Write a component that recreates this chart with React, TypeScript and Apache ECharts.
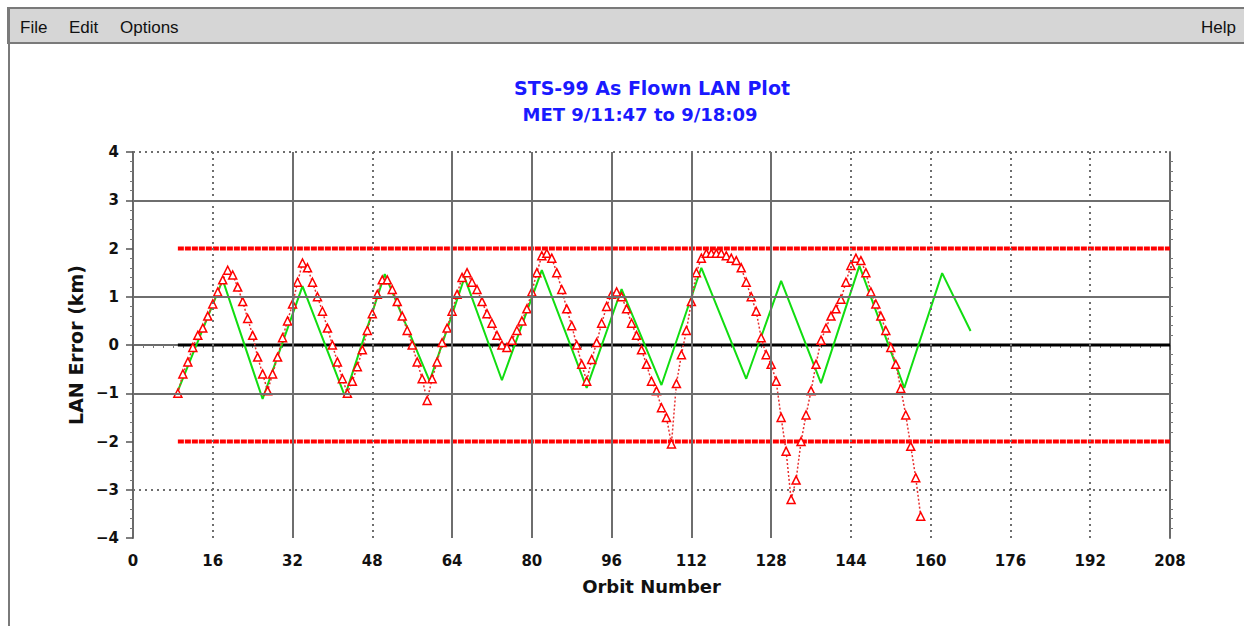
import React, { useEffect, useRef } from "react";
import * as echarts from "echarts";

const titleLines = ["STS-99 As Flown LAN Plot", "MET 9/11:47 to 9/18:09"];
const menuItems = ["File", "Edit", "Options"];
const helpItem = "Help";
const xTicks = [0, 16, 32, 48, 64, 80, 96, 112, 128, 144, 160, 176, 192, 208];
const xAxisName = "Orbit Number";
const yAxisName = "LAN Error (km)";

// As flown (red triangles)
const asFlownOrbit = [
  9, 10, 11, 12, 13, 14, 15, 16, 17, 18, 19, 20, 21, 22, 23, 24, 25, 26, 27, 28,
  29, 30, 31, 32, 33, 34, 35, 36, 37, 38, 39, 40, 41, 42, 43, 44, 45, 46, 47, 48,
  49, 50, 51, 52, 53, 54, 55, 56, 57, 58, 59, 60, 61, 62, 63, 64, 65, 66, 67, 68,
  69, 70, 71, 72, 73, 74, 75, 76, 77, 78, 79, 80, 81, 82, 83, 84, 85, 86, 87, 88,
  89, 90, 91, 92, 93, 94, 95, 96, 97, 98, 99, 100, 101, 102, 103, 104, 105, 106, 107, 108,
  109, 110, 111, 112, 113, 114, 115, 116, 117, 118, 119, 120, 121, 122, 123, 124, 125, 126, 127, 128,
  129, 130, 131, 132, 133, 134, 135, 136, 137, 138, 139, 140, 141, 142, 143, 144, 145, 146, 147, 148,
  149, 150, 151, 152, 153, 154, 155, 156, 157, 158,
];
const asFlownLan = [
  -1.0, -0.6, -0.35, -0.05, 0.2, 0.35, 0.6, 0.85, 1.1, 1.35, 1.55, 1.45, 1.2, 0.9, 0.55, 0.2, -0.25, -0.6, -0.95, -0.6,
  -0.25, 0.15, 0.5, 0.85, 1.3, 1.7, 1.6, 1.3, 1.0, 0.7, 0.35, 0.0, -0.35, -0.7, -1.0, -0.75, -0.45, -0.1, 0.3, 0.65,
  1.05, 1.35, 1.35, 1.15, 0.9, 0.6, 0.3, 0.0, -0.35, -0.7, -1.15, -0.7, -0.35, 0.05, 0.35, 0.7, 1.05, 1.4, 1.5, 1.3,
  1.15, 0.9, 0.65, 0.45, 0.2, 0.0, -0.05, 0.1, 0.3, 0.5, 0.75, 1.1, 1.5, 1.85, 1.9, 1.8, 1.5, 1.15, 0.75, 0.4,
  0.0, -0.4, -0.75, -0.3, 0.05, 0.45, 0.8, 1.05, 1.1, 1.0, 0.75, 0.45, 0.2, -0.1, -0.4, -0.75, -0.95, -1.3, -1.5, -2.05,
  -0.8, -0.2, 0.3, 0.9, 1.5, 1.8, 1.9, 1.9, 1.9, 1.9, 1.85, 1.8, 1.75, 1.6, 1.3, 1.0, 0.7, 0.15, -0.2, -0.4,
  -0.75, -1.5, -2.2, -3.2, -2.8, -2.0, -1.45, -0.95, -0.4, 0.1, 0.35, 0.6, 0.75, 0.95, 1.3, 1.65, 1.8, 1.75, 1.5, 1.1,
  0.85, 0.6, 0.3, -0.05, -0.4, -0.9, -1.45, -2.1, -2.75, -3.55,
];

// Predicted (green line)
const predictedOrbit = [9, 18, 26, 34, 42.5, 50.5, 59.5, 66.5, 74, 82, 91, 98, 106, 114, 123, 130, 138, 145.7, 154.7, 162.3, 168];
const predictedLan = [-0.95, 1.35, -1.12, 1.22, -1.06, 1.47, -0.75, 1.4, -0.73, 1.55, -0.89, 1.16, -0.83, 1.6, -0.7, 1.33, -0.79, 1.64, -0.89, 1.49, 0.29];

// Reference lines
const limitStart = 9;
const limitEnd = 208;
const upperLimit = 2;
const lowerLimit = -2;
const nominal = 0;

// Grid lines
const solidVerticals = [32, 64, 80, 96, 112, 128];
const dottedVerticals = [16, 48, 144, 160, 176, 192];
const solidHorizontals = [3, 1, -1];
const dottedHorizontals = [4, -3];

const FONT = "'Liberation Sans', Arial, sans-serif";
const WIDE = "'DejaVu Sans', Verdana, sans-serif";

export default function App() {
  const ref = useRef<HTMLDivElement>(null);

  useEffect(() => {
    if (!ref.current) return;
    const chart = echarts.init(ref.current, null, { renderer: "svg" });

    const pairs = (xs: number[], ys: number[]) => xs.map((x, i) => [x, ys[i]]);
    const gridMarks: any[] = [];
    solidVerticals.forEach((v) =>
      gridMarks.push({ xAxis: v, lineStyle: { color: "#6e6e6e", width: 2, type: "solid" } })
    );
    dottedVerticals.forEach((v) =>
      gridMarks.push({ xAxis: v, lineStyle: { color: "#6e6e6e", width: 2, type: [2, 4] } })
    );
    solidHorizontals.forEach((v) =>
      gridMarks.push({ yAxis: v, lineStyle: { color: "#6e6e6e", width: 2, type: "solid" } })
    );
    dottedHorizontals.forEach((v) =>
      gridMarks.push({ yAxis: v, lineStyle: { color: "#6e6e6e", width: 2, type: [2, 4] } })
    );

    const axisLineStyle = { color: "#6a6a6a", width: 2 };

    chart.setOption({
      animation: false,
      backgroundColor: "#ffffff",
      textStyle: { fontFamily: FONT },
      grid: { left: 133, right: 74, top: 152, bottom: 88 },
      graphic: [
        {
          type: "rect",
          shape: { x: 8, y: 8, width: 1240, height: 35 },
          style: { fill: "#d6d6d6", stroke: "#7a7a7a", lineWidth: 2 },
          silent: true,
        },
        {
          type: "line",
          shape: { x1: 9, y1: 8, x2: 9, y2: 626 },
          style: { stroke: "#7a7a7a", lineWidth: 2 },
          silent: true,
        },
        ...menuItems.map((t, i) => ({
          type: "text",
          x: [20, 69, 120][i],
          y: 27,
          style: {
            text: t,
            font: `17px ${FONT}`,
            fill: "#111",
            textVerticalAlign: "middle",
          },
          silent: true,
        })),
        {
          type: "text",
          x: 1236,
          y: 27,
          style: {
            text: helpItem,
            font: `17px ${FONT}`,
            fill: "#111",
            textAlign: "right",
            textVerticalAlign: "middle",
          },
          silent: true,
        },
        {
          type: "text",
          x: 652,
          y: 88,
          style: {
            text: titleLines[0],
            font: `bold 19px ${WIDE}`,
            fill: "#1a1aff",
            textAlign: "center",
            textVerticalAlign: "middle",
          },
          silent: true,
        },
        {
          type: "text",
          x: 640,
          y: 114,
          style: {
            text: titleLines[1],
            font: `bold 18px ${WIDE}`,
            fill: "#1a1aff",
            textAlign: "center",
            textVerticalAlign: "middle",
          },
          silent: true,
        },
      ],
      xAxis: [
        {
          type: "value",
          min: 0,
          max: 208,
          interval: 16,
          position: "bottom",
          name: xAxisName,
          nameLocation: "middle",
          nameGap: 39,
          nameTextStyle: { fontFamily: WIDE, fontWeight: "bold", fontSize: 18, color: "#111" },
          axisLine: { show: true, lineStyle: axisLineStyle },
          axisTick: { show: true, length: 5, inside: false, lineStyle: { color: "#555", width: 1.5 } },
          minorTick: { show: true, splitNumber: 8, length: 3, lineStyle: { color: "#777" } },
          axisLabel: {
            margin: 15,
            fontFamily: WIDE,
            fontWeight: "bold",
            fontSize: 15,
            color: "#111",
            formatter: (v: number) => (xTicks.includes(v) ? String(v) : ""),
          },
          splitLine: { show: false },
        },
      ],
      yAxis: [
        {
          type: "value",
          min: -4,
          max: 4,
          interval: 1,
          position: "left",
          name: yAxisName,
          nameLocation: "middle",
          nameGap: 41,
          nameRotate: 90,
          nameTextStyle: { fontFamily: WIDE, fontWeight: "bold", fontSize: 19, color: "#111" },
          axisLine: { show: true, lineStyle: axisLineStyle },
          axisTick: { show: true, length: 7, inside: false, lineStyle: { color: "#555", width: 1.5 } },
          minorTick: { show: true, splitNumber: 5, length: 3, lineStyle: { color: "#777" } },
          axisLabel: {
            margin: 14,
            fontFamily: WIDE,
            fontWeight: "bold",
            fontSize: 15,
            color: "#111",
            formatter: (v: number) => (v < 0 ? "\u2212" + Math.abs(v) : String(v)),
          },
          splitLine: { show: false },
        },
        {
          type: "value",
          min: -4,
          max: 4,
          interval: 1,
          position: "right",
          axisLine: { show: true, onZero: false, lineStyle: axisLineStyle },
          axisTick: { show: false },
          minorTick: { show: true, splitNumber: 5, length: 3, lineStyle: { color: "#777" } },
          axisLabel: { show: false },
          splitLine: { show: false },
        },
      ],
      series: [
        {
          name: "grid",
          type: "line",
          data: [],
          z: 1,
          silent: true,
          markLine: {
            silent: true,
            symbol: "none",
            label: { show: false },
            data: gridMarks,
          },
        },
        {
          name: "upper",
          type: "line",
          data: [[limitStart, upperLimit], [limitEnd, upperLimit]],
          showSymbol: false,
          lineStyle: { color: "#ff0000", width: 4, type: [6, 1] },
          z: 2,
          silent: true,
        },
        {
          name: "lower",
          type: "line",
          data: [[limitStart, lowerLimit], [limitEnd, lowerLimit]],
          showSymbol: false,
          lineStyle: { color: "#ff0000", width: 4, type: [6, 1] },
          z: 2,
          silent: true,
        },
        {
          name: "nominal",
          type: "line",
          data: [[limitStart, nominal], [limitEnd, nominal]],
          showSymbol: false,
          lineStyle: { color: "#000000", width: 3 },
          z: 2,
          silent: true,
        },
        {
          name: "predicted",
          type: "line",
          data: pairs(predictedOrbit, predictedLan),
          showSymbol: false,
          lineStyle: { color: "#11dd11", width: 2 },
          z: 3,
          silent: true,
        },
        {
          name: "asFlown",
          type: "line",
          data: pairs(asFlownOrbit, asFlownLan),
          symbol: "triangle",
          symbolSize: 8,
          showSymbol: true,
          itemStyle: { color: "#ffffff", borderColor: "#ff0000", borderWidth: 1.5 },
          lineStyle: { color: "#e83030", width: 1.5, type: [2, 2] },
          z: 4,
          silent: true,
        },
      ],
    });

    return () => chart.dispose();
  }, []);

  return (
    <div
      ref={ref}
      style={{ position: "fixed", left: 0, top: 0, width: 1244, height: 626, background: "#fff" }}
    />
  );
}
